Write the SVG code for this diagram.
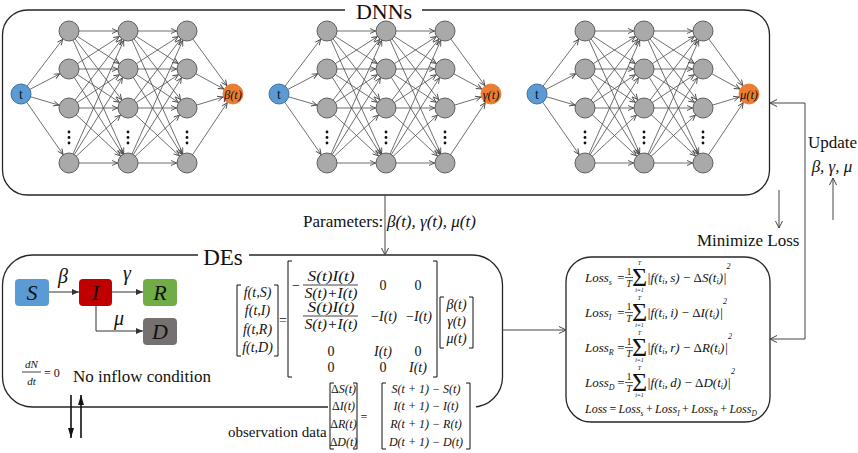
<svg xmlns="http://www.w3.org/2000/svg" width="858" height="453" viewBox="0 0 858 453">
<style>
text{font-family:"Liberation Serif","Times New Roman",serif;fill:#111}
.it{font-style:italic}
.h{fill:#A9A9A9;stroke:#5f5f5f;stroke-width:1}
.tn{fill:#5B9BD5;stroke:#41719C;stroke-width:1}
.on{fill:#ED7D31;stroke:#E0722A;stroke-width:0.8}
.box{fill:none;stroke:#262626;stroke-width:1.3}
.e line{stroke:#4a4a4a;stroke-width:0.8;marker-end:url(#ah)}
.br{fill:none;stroke:#111;stroke-width:1}
.thin{fill:none;stroke:#444;stroke-width:1;marker-end:url(#oa)}
.sir{fill:none;stroke:#333;stroke-width:1;marker-end:url(#fa)}
.heavy{fill:none;stroke:#111;stroke-width:1.6;marker-end:url(#fb)}
.m{font-style:italic;font-size:14px}
.lm{font-style:italic;font-size:13px}
.sg{font-size:26px}
.lim{font-style:italic;font-size:6px}
.dot{fill:#111}
</style>
<defs>
<marker id="ah" markerUnits="userSpaceOnUse" markerWidth="8" markerHeight="8" viewBox="0 0 8 8" refX="17.5" refY="4" orient="auto"><path d="M1.5,1.5 L7,4 L1.5,6.5" fill="none" stroke="#4a4a4a" stroke-width="0.9"/></marker>
<marker id="oa" markerUnits="userSpaceOnUse" markerWidth="9" markerHeight="9" viewBox="0 0 9 9" refX="8" refY="4.5" orient="auto"><path d="M1,1 L8,4.5 L1,8" fill="none" stroke="#444" stroke-width="1"/></marker>
<marker id="fa" markerUnits="userSpaceOnUse" markerWidth="7" markerHeight="7" viewBox="0 0 7 7" refX="7" refY="3.5" orient="auto"><path d="M0,0.5 L7,3.5 L0,6.5 z" fill="#333"/></marker>
<marker id="fb" markerUnits="userSpaceOnUse" markerWidth="10" markerHeight="10" viewBox="0 0 10 10" refX="10" refY="5" orient="auto"><path d="M0,2 L10,5 L0,8 z" fill="#111"/></marker>
<g id="netEdges" class="e">
<line x1="21" y1="94" x2="69" y2="31"/><line x1="21" y1="94" x2="69" y2="69"/><line x1="21" y1="94" x2="69" y2="108"/><line x1="21" y1="94" x2="69" y2="163"/>
<line x1="69" y1="31" x2="128" y2="31"/><line x1="69" y1="31" x2="128" y2="69"/><line x1="69" y1="31" x2="128" y2="108"/><line x1="69" y1="31" x2="128" y2="163"/>
<line x1="69" y1="69" x2="128" y2="31"/><line x1="69" y1="69" x2="128" y2="69"/><line x1="69" y1="69" x2="128" y2="108"/><line x1="69" y1="69" x2="128" y2="163"/>
<line x1="69" y1="108" x2="128" y2="31"/><line x1="69" y1="108" x2="128" y2="69"/><line x1="69" y1="108" x2="128" y2="108"/><line x1="69" y1="108" x2="128" y2="163"/>
<line x1="69" y1="163" x2="128" y2="31"/><line x1="69" y1="163" x2="128" y2="69"/><line x1="69" y1="163" x2="128" y2="108"/><line x1="69" y1="163" x2="128" y2="163"/>
<line x1="128" y1="31" x2="187" y2="31"/><line x1="128" y1="31" x2="187" y2="69"/><line x1="128" y1="31" x2="187" y2="108"/><line x1="128" y1="31" x2="187" y2="163"/>
<line x1="128" y1="69" x2="187" y2="31"/><line x1="128" y1="69" x2="187" y2="69"/><line x1="128" y1="69" x2="187" y2="108"/><line x1="128" y1="69" x2="187" y2="163"/>
<line x1="128" y1="108" x2="187" y2="31"/><line x1="128" y1="108" x2="187" y2="69"/><line x1="128" y1="108" x2="187" y2="108"/><line x1="128" y1="108" x2="187" y2="163"/>
<line x1="128" y1="163" x2="187" y2="31"/><line x1="128" y1="163" x2="187" y2="69"/><line x1="128" y1="163" x2="187" y2="108"/><line x1="128" y1="163" x2="187" y2="163"/>
<line x1="187" y1="31" x2="233" y2="94"/><line x1="187" y1="69" x2="233" y2="94"/><line x1="187" y1="108" x2="233" y2="94"/><line x1="187" y1="163" x2="233" y2="94"/>
</g>
<g id="dots" class="dot">
<circle cx="0" cy="132" r="1.4"/><circle cx="0" cy="137.5" r="1.4"/><circle cx="0" cy="143" r="1.4"/>
</g>
</defs>
<rect width="858" height="453" fill="#fff"/>

<g id="dnn-box">
<rect class="box" x="2.5" y="10" width="767" height="185" rx="25"/>
<rect x="345" y="4" width="77" height="12" fill="#fff"/>
<text x="384" y="18.5" font-size="22" text-anchor="middle">DNNs</text>
</g>
<g id="de-box">
<rect class="box" x="2.5" y="255" width="500" height="152" rx="30"/>
<rect x="198" y="248" width="51" height="12" fill="#fff"/>
<rect x="328" y="379" width="148" height="35" fill="#fff"/>
<text x="223" y="265" font-size="23" text-anchor="middle">DEs</text>
</g>
<g id="loss-box">
<rect class="box" x="566" y="257" width="204" height="165" rx="25"/>
</g>

<g id="connectors">
<use href="#netEdges"/>
<use href="#netEdges" x="258"/>
<use href="#netEdges" x="516"/>
<line class="thin" x1="385" y1="195" x2="385" y2="255"/>
<line class="thin" x1="502" y1="330" x2="566" y2="330"/>
<path class="thin" d="M805,221 L805,103 L770,103"/>
<path class="thin" d="M805,221 L805,339 L770,339"/>
<line class="thin" x1="779" y1="190" x2="779" y2="228"/>
<line class="thin" x1="833" y1="220" x2="833" y2="178"/>
<line class="sir" x1="49" y1="292" x2="79" y2="292"/>
<line class="sir" x1="112" y1="292" x2="143" y2="292"/>
<path class="sir" d="M96,306 L96,331 L143,331"/>
<line class="heavy" x1="71" y1="395" x2="71" y2="438"/>
<line class="heavy" x1="81" y1="438" x2="81" y2="395"/>
</g>

<g id="dnn1">
<g id="n1-t"><circle class="tn" cx="21" cy="94" r="10"/><text x="21" y="99" font-size="14" text-anchor="middle">t</text></g>
<g id="n1-a1"><circle class="h" cx="69" cy="31" r="10"/></g>
<g id="n1-a2"><circle class="h" cx="69" cy="69" r="10"/></g>
<g id="n1-a3"><circle class="h" cx="69" cy="108" r="10"/></g>
<g id="n1-a4"><circle class="h" cx="69" cy="163" r="10"/></g>
<g id="n1-b1"><circle class="h" cx="128" cy="31" r="10"/></g>
<g id="n1-b2"><circle class="h" cx="128" cy="69" r="10"/></g>
<g id="n1-b3"><circle class="h" cx="128" cy="108" r="10"/></g>
<g id="n1-b4"><circle class="h" cx="128" cy="163" r="10"/></g>
<g id="n1-c1"><circle class="h" cx="187" cy="31" r="10"/></g>
<g id="n1-c2"><circle class="h" cx="187" cy="69" r="10"/></g>
<g id="n1-c3"><circle class="h" cx="187" cy="108" r="10"/></g>
<g id="n1-c4"><circle class="h" cx="187" cy="163" r="10"/></g>
<use href="#dots" x="69"/><use href="#dots" x="128"/><use href="#dots" x="187"/>
<g id="n1-out"><circle class="on" cx="233" cy="94" r="10"/><text x="233" y="98.5" font-size="12.5" class="it" text-anchor="middle">β(t)</text></g>
</g>

<g id="dnn2">
<g id="n2-t"><circle class="tn" cx="279" cy="94" r="10"/><text x="279" y="99" font-size="14" text-anchor="middle">t</text></g>
<g id="n2-a1"><circle class="h" cx="327" cy="31" r="10"/></g>
<g id="n2-a2"><circle class="h" cx="327" cy="69" r="10"/></g>
<g id="n2-a3"><circle class="h" cx="327" cy="108" r="10"/></g>
<g id="n2-a4"><circle class="h" cx="327" cy="163" r="10"/></g>
<g id="n2-b1"><circle class="h" cx="386" cy="31" r="10"/></g>
<g id="n2-b2"><circle class="h" cx="386" cy="69" r="10"/></g>
<g id="n2-b3"><circle class="h" cx="386" cy="108" r="10"/></g>
<g id="n2-b4"><circle class="h" cx="386" cy="163" r="10"/></g>
<g id="n2-c1"><circle class="h" cx="445" cy="31" r="10"/></g>
<g id="n2-c2"><circle class="h" cx="445" cy="69" r="10"/></g>
<g id="n2-c3"><circle class="h" cx="445" cy="108" r="10"/></g>
<g id="n2-c4"><circle class="h" cx="445" cy="163" r="10"/></g>
<use href="#dots" x="327"/><use href="#dots" x="386"/><use href="#dots" x="445"/>
<g id="n2-out"><circle class="on" cx="491" cy="94" r="10"/><text x="491" y="98.5" font-size="12.5" class="it" text-anchor="middle">γ(t)</text></g>
</g>

<g id="dnn3">
<g id="n3-t"><circle class="tn" cx="537" cy="94" r="10"/><text x="537" y="99" font-size="14" text-anchor="middle">t</text></g>
<g id="n3-a1"><circle class="h" cx="585" cy="31" r="10"/></g>
<g id="n3-a2"><circle class="h" cx="585" cy="69" r="10"/></g>
<g id="n3-a3"><circle class="h" cx="585" cy="108" r="10"/></g>
<g id="n3-a4"><circle class="h" cx="585" cy="163" r="10"/></g>
<g id="n3-b1"><circle class="h" cx="644" cy="31" r="10"/></g>
<g id="n3-b2"><circle class="h" cx="644" cy="69" r="10"/></g>
<g id="n3-b3"><circle class="h" cx="644" cy="108" r="10"/></g>
<g id="n3-b4"><circle class="h" cx="644" cy="163" r="10"/></g>
<g id="n3-c1"><circle class="h" cx="703" cy="31" r="10"/></g>
<g id="n3-c2"><circle class="h" cx="703" cy="69" r="10"/></g>
<g id="n3-c3"><circle class="h" cx="703" cy="108" r="10"/></g>
<g id="n3-c4"><circle class="h" cx="703" cy="163" r="10"/></g>
<use href="#dots" x="585"/><use href="#dots" x="644"/><use href="#dots" x="703"/>
<g id="n3-out"><circle class="on" cx="749" cy="94" r="10"/><text x="749" y="98.5" font-size="12.5" class="it" text-anchor="middle">μ(t)</text></g>
</g>

<g id="labels">
<text x="303" y="227" font-size="17">Parameters: <tspan class="it" x="387">β(t), γ(t), μ(t)</tspan></text>
<text x="808" y="148" font-size="17">Update</text>
<text x="832" y="172" font-size="17" class="it" text-anchor="middle">β, γ, μ</text>
<text x="697" y="246" font-size="17">Minimize Loss</text>
</g>

<g id="node-S"><rect x="15" y="279" width="34" height="27" rx="4" fill="#5B9BD5"/><text x="32" y="300" font-size="22" class="it" text-anchor="middle">S</text></g>
<g id="node-I"><rect x="79" y="279" width="33" height="27" rx="4" fill="#C00000"/><text x="95.5" y="300" font-size="22" class="it" text-anchor="middle">I</text></g>
<g id="node-R"><rect x="143" y="279" width="34" height="27" rx="4" fill="#70AD47"/><text x="160" y="300" font-size="22" class="it" text-anchor="middle">R</text></g>
<g id="node-D"><rect x="143" y="318" width="34" height="27" rx="4" fill="#767171"/><text x="160" y="339" font-size="22" class="it" text-anchor="middle">D</text></g>
<g id="sir-labels">
<text x="63" y="283" font-size="20" class="it" text-anchor="middle">β</text>
<text x="127" y="280" font-size="20" class="it" text-anchor="middle">γ</text>
<text x="119" y="325" font-size="20" class="it" text-anchor="middle">μ</text>
</g>
<g id="no-inflow">
<text x="31.5" y="368" font-size="11" class="it" text-anchor="middle">dN</text>
<line x1="22" y1="372" x2="41" y2="372" stroke="#111" stroke-width="0.8"/>
<text x="31.5" y="385" font-size="11" class="it" text-anchor="middle">dt</text>
<text x="44" y="377" font-size="12">= 0</text>
<text x="73" y="382" font-size="17">No inflow condition</text>
</g>

<g id="de-equation">
<path class="br" d="M241,285 L237,285 L237,356 L241,356 M274,285 L278,285 L278,356 L274,356"/>
<text x="257.5" y="297" class="m" font-size="15" text-anchor="middle">f(t,S)</text>
<text x="257.5" y="315" class="m" font-size="15" text-anchor="middle">f(t,I)</text>
<text x="257.5" y="334" class="m" font-size="15" text-anchor="middle">f(t,R)</text>
<text x="257.5" y="352" class="m" font-size="15" text-anchor="middle">f(t,D)</text>
<text x="283" y="325" font-size="14" text-anchor="middle">=</text>
<path class="br" d="M292,261 L288,261 L288,377 L292,377 M433,261 L437,261 L437,377 L433,377"/>
<text x="296" y="290" font-size="14" text-anchor="middle">−</text>
<text x="331" y="281" class="m" text-anchor="middle" textLength="47" lengthAdjust="spacingAndGlyphs">S(t)I(t)</text>
<line x1="303" y1="285" x2="358" y2="285" stroke="#111" stroke-width="0.8"/>
<text x="331" y="298" class="m" text-anchor="middle" textLength="53" lengthAdjust="spacingAndGlyphs">S(t)+I(t)</text>
<text x="383" y="290" font-size="14" text-anchor="middle">0</text>
<text x="418" y="290" font-size="14" text-anchor="middle">0</text>
<text x="331" y="312" class="m" text-anchor="middle" textLength="47" lengthAdjust="spacingAndGlyphs">S(t)I(t)</text>
<line x1="303" y1="316" x2="358" y2="316" stroke="#111" stroke-width="0.8"/>
<text x="331" y="329" class="m" text-anchor="middle" textLength="53" lengthAdjust="spacingAndGlyphs">S(t)+I(t)</text>
<text x="384" y="321" class="m" text-anchor="middle"><tspan font-style="normal">−</tspan>I(t)</text>
<text x="419" y="321" class="m" text-anchor="middle"><tspan font-style="normal">−</tspan>I(t)</text>
<text x="331" y="356" font-size="14" text-anchor="middle">0</text>
<text x="383" y="356" class="m" text-anchor="middle">I(t)</text>
<text x="418" y="356" font-size="14" text-anchor="middle">0</text>
<text x="331" y="372" font-size="14" text-anchor="middle">0</text>
<text x="383" y="372" font-size="14" text-anchor="middle">0</text>
<text x="418" y="372" class="m" text-anchor="middle">I(t)</text>
<path class="br" d="M444,297 L440,297 L440,348 L444,348 M469,297 L473,297 L473,348 L469,348"/>
<text x="456.5" y="309" class="m" text-anchor="middle">β(t)</text>
<text x="456.5" y="326" class="m" text-anchor="middle">γ(t)</text>
<text x="456.5" y="343" class="m" text-anchor="middle">μ(t)</text>
</g>

<g id="observation">
<text x="228" y="437" font-size="15">observation data</text>
<path class="br" d="M334,383 L330,383 L330,449 L334,449 M353,383 L357,383 L357,449 L353,449"/>
<text x="343.5" y="393" font-size="12" class="it" text-anchor="middle"><tspan font-style="normal">Δ</tspan>S(t)</text>
<text x="343.5" y="410" font-size="12" class="it" text-anchor="middle"><tspan font-style="normal">Δ</tspan>I(t)</text>
<text x="343.5" y="428" font-size="12" class="it" text-anchor="middle"><tspan font-style="normal">Δ</tspan>R(t)</text>
<text x="343.5" y="446" font-size="12" class="it" text-anchor="middle"><tspan font-style="normal">Δ</tspan>D(t)</text>
<text x="364" y="421" font-size="12" text-anchor="middle">=</text>
<path class="br" d="M386,383 L382,383 L382,449 L386,449 M466,383 L470,383 L470,449 L466,449"/>
<text x="426" y="393" font-size="12" class="it" text-anchor="middle">S(t + 1) − S(t)</text>
<text x="426" y="410" font-size="12" class="it" text-anchor="middle">I(t + 1) − I(t)</text>
<text x="426" y="428" font-size="12" class="it" text-anchor="middle">R(t + 1) − R(t)</text>
<text x="426" y="446" font-size="12" class="it" text-anchor="middle">D(t + 1) − D(t)</text>
</g>

<g id="loss-eqs">
<text x="585" y="282" class="lm">Loss<tspan font-size="8" dy="3">s</tspan></text>
<text x="621" y="282" font-size="13" text-anchor="middle">=</text>
<text x="629" y="275" font-size="10" text-anchor="middle">1</text>
<line x1="625" y1="277.5" x2="633" y2="277.5" stroke="#111" stroke-width="0.7"/>
<text x="629" y="287" font-size="10" class="it" text-anchor="middle">T</text>
<text x="639.5" y="286" class="sg" text-anchor="middle">Σ</text>
<text x="639.5" y="265" class="lim" text-anchor="middle">T</text>
<text x="639.5" y="292" class="lim" text-anchor="middle">i=1</text>
<text x="647" y="282" class="lm">|f(t<tspan font-size="8" dy="2">i</tspan><tspan dy="-2">,&#8201;s)&#8201;−&#8201;</tspan><tspan font-style="normal">Δ</tspan>S(t<tspan font-size="8" dy="2">i</tspan><tspan dy="-2">)|</tspan><tspan font-size="8" dy="-13">2</tspan></text>

<text x="585" y="317" class="lm">Loss<tspan font-size="8" dy="3">I</tspan></text>
<text x="621" y="317" font-size="13" text-anchor="middle">=</text>
<text x="629" y="310" font-size="10" text-anchor="middle">1</text>
<line x1="625" y1="312.5" x2="633" y2="312.5" stroke="#111" stroke-width="0.7"/>
<text x="629" y="322" font-size="10" class="it" text-anchor="middle">T</text>
<text x="639.5" y="321" class="sg" text-anchor="middle">Σ</text>
<text x="639.5" y="300" class="lim" text-anchor="middle">T</text>
<text x="639.5" y="327" class="lim" text-anchor="middle">i=1</text>
<text x="647" y="317" class="lm">|f(t<tspan font-size="8" dy="2">i</tspan><tspan dy="-2">,&#8201;i)&#8201;−&#8201;</tspan><tspan font-style="normal">Δ</tspan>I(t<tspan font-size="8" dy="2">i</tspan><tspan dy="-2">)|</tspan><tspan font-size="8" dy="-13">2</tspan></text>

<text x="585" y="352" class="lm">Loss<tspan font-size="8" dy="3">R</tspan></text>
<text x="621" y="352" font-size="13" text-anchor="middle">=</text>
<text x="629" y="345" font-size="10" text-anchor="middle">1</text>
<line x1="625" y1="347.5" x2="633" y2="347.5" stroke="#111" stroke-width="0.7"/>
<text x="629" y="357" font-size="10" class="it" text-anchor="middle">T</text>
<text x="639.5" y="356" class="sg" text-anchor="middle">Σ</text>
<text x="639.5" y="335" class="lim" text-anchor="middle">T</text>
<text x="639.5" y="362" class="lim" text-anchor="middle">i=1</text>
<text x="647" y="352" class="lm">|f(t<tspan font-size="8" dy="2">i</tspan><tspan dy="-2">,&#8201;r)&#8201;−&#8201;</tspan><tspan font-style="normal">Δ</tspan>R(t<tspan font-size="8" dy="2">i</tspan><tspan dy="-2">)|</tspan><tspan font-size="8" dy="-13">2</tspan></text>

<text x="585" y="387" class="lm">Loss<tspan font-size="8" dy="3">D</tspan></text>
<text x="621" y="387" font-size="13" text-anchor="middle">=</text>
<text x="629" y="380" font-size="10" text-anchor="middle">1</text>
<line x1="625" y1="382.5" x2="633" y2="382.5" stroke="#111" stroke-width="0.7"/>
<text x="629" y="392" font-size="10" class="it" text-anchor="middle">T</text>
<text x="639.5" y="391" class="sg" text-anchor="middle">Σ</text>
<text x="639.5" y="370" class="lim" text-anchor="middle">T</text>
<text x="639.5" y="397" class="lim" text-anchor="middle">i=1</text>
<text x="647" y="387" class="lm">|f(t<tspan font-size="8" dy="2">i</tspan><tspan dy="-2">,&#8201;d)&#8201;−&#8201;</tspan><tspan font-style="normal">Δ</tspan>D(t<tspan font-size="8" dy="2">i</tspan><tspan dy="-2">)|</tspan><tspan font-size="8" dy="-13">2</tspan></text>

<text x="585" y="413" class="lm" style="font-size:12px">Loss<tspan font-style="normal">&#8201;=&#8201;</tspan>Loss<tspan font-size="7.5" dy="3">s</tspan><tspan dy="-3" font-style="normal">&#8201;+&#8201;</tspan>Loss<tspan font-size="7.5" dy="3">I</tspan><tspan dy="-3" font-style="normal">&#8201;+&#8201;</tspan>Loss<tspan font-size="7.5" dy="3">R</tspan><tspan dy="-3" font-style="normal">&#8201;+&#8201;</tspan>Loss<tspan font-size="7.5" dy="3">D</tspan></text>
</g>
</svg>
